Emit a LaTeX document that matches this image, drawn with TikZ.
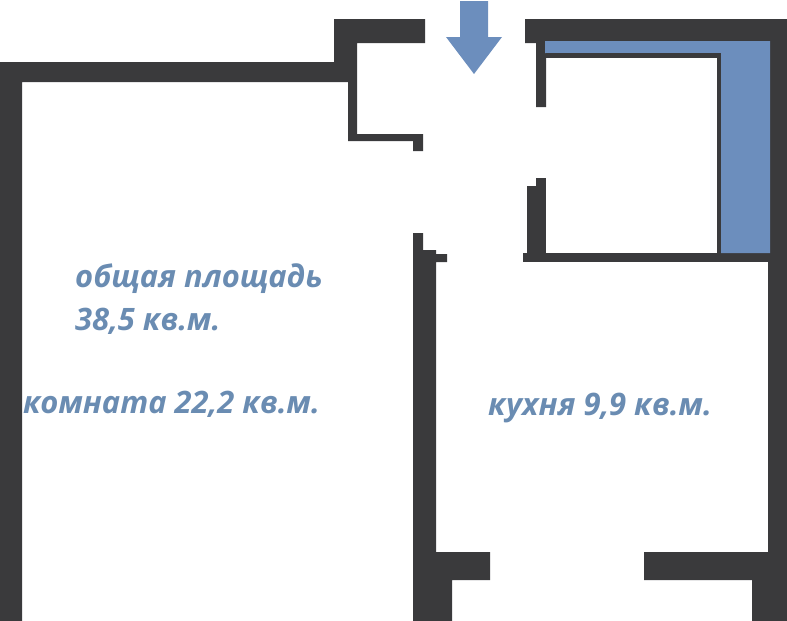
\documentclass[tikz,border=0pt]{standalone}
\usepackage{fontspec}
\setmainfont{Open Sans}
\definecolor{wall}{HTML}{3A3A3C}
\definecolor{fitting}{HTML}{6C8EBD}
\definecolor{labelblue}{HTML}{6A8CB2}
\tikzset{
  x=1pt,y=-1pt,
  wallfill/.style={fill=wall,draw=none},
  bluefill/.style={fill=fitting,draw=none},
  lab/.style={text=labelblue,anchor=base west,inner sep=0pt,font=\fontsize{30.9}{31}\selectfont\bfseries\itshape}
}
\begin{document}
\begin{tikzpicture}
\useasboundingbox (0,0) rectangle (787,621);
% left room and entrance walls
\fill[wallfill] (0,621) -- (0,62) -- (334,62) -- (334,19) -- (425,19) -- (425,43) -- (357,43) -- (357,134)
  -- (423,134) -- (423,151) -- (413,151) -- (413,141) -- (348,141) -- (348,82) -- (22,82) -- (22,621) -- cycle;
% partition
\fill[wallfill] (413,621) -- (413,233) -- (423,233) -- (423,250) -- (436,250) -- (436,254) -- (447,254) -- (447,262)
  -- (436,262) -- (436,552) -- (490,552) -- (490,580) -- (452,580) -- (452,621) -- cycle;
% right and lower right walls
\fill[wallfill] (525,19) -- (787,19) -- (787,621) -- (752,621) -- (752,580) -- (644,580) -- (644,552) -- (768,552)
  -- (768,262) -- (770,262) -- (770,41) -- (546,41) -- (546,107) -- (536,107) -- (536,43) -- (525,43) -- cycle;
\fill[wallfill] (527,186) rectangle (535.5,254);
\fill[wallfill] (536,178) rectangle (546,254);
\fill[wallfill] (523,253) rectangle (770,262);
% fitted unit
\fill[bluefill] (545,41) -- (770,41) -- (770,253) -- (721,253) -- (721,53) -- (545,53) -- cycle;
\fill[wallfill] (546,53) rectangle (721,58);
\fill[wallfill] (717,53) rectangle (721,253);
% entrance arrow
\fill[bluefill] (460,1) -- (488,1) -- (488,37) -- (502,37) -- (474,74) -- (446,37) -- (460,37) -- cycle;
% labels
\node[lab] (total1) at (75,287) {общая площадь};
\node[lab] (total2) at (75,330) {38,5 кв.м.};
\node[lab] (room) at (23,413) {комната 22,2 кв.м.};
\node[lab] (kitchen) at (488,415) {кухня 9,9 кв.м.};
\end{tikzpicture}
\end{document}
